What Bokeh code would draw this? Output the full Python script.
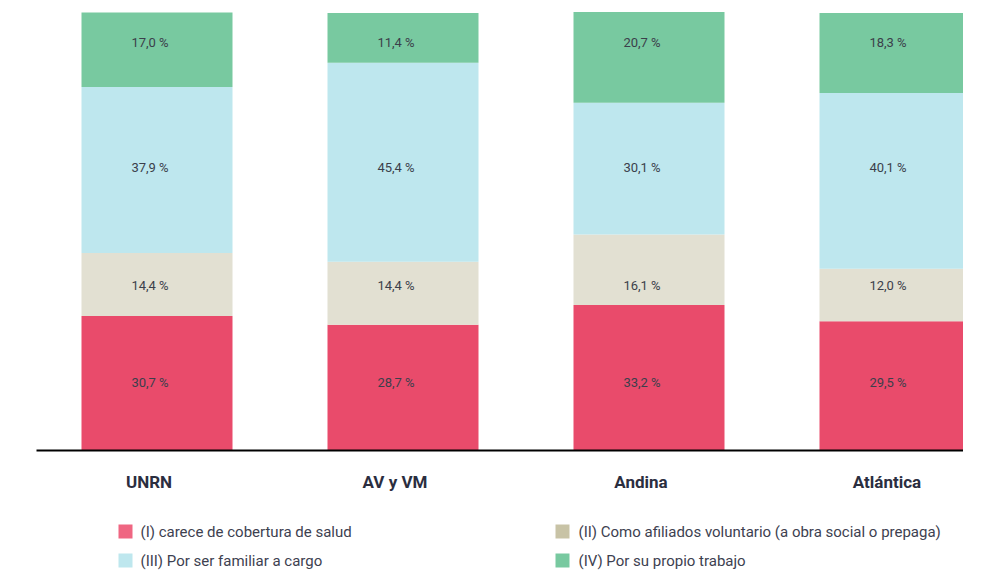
from bokeh.plotting import figure
from bokeh.models import ColumnDataSource
from bokeh.core.properties import value
from bokeh.embed import file_html
from bokeh.resources import INLINE

categories = ["UNRN", "AV y VM", "Andina", "Atlántica"]
series_names = ["(I) carece de cobertura de salud",
                "(II) Como afiliados voluntario (a obra social o prepaga)",
                "(III) Por ser familiar a cargo",
                "(IV) Por su propio trabajo"]
s1 = [30.7, 28.7, 33.2, 29.5]
s2 = [14.4, 14.4, 16.1, 12.0]
s3 = [37.9, 45.4, 30.1, 40.1]
s4 = [17.0, 11.4, 20.7, 18.3]

bar_colors = ["#e94b6b", "#e2e0d2", "#bee7ee", "#78c9a0"]
swatch_colors = ["#ef6682", "#c8c3a6", "#bee7ee", "#78c9a0"]

# layout constants (px) -> data units
PX_X = 246.0   # px per category unit
PX_Y = 4.38    # px per percent
X0 = 156.5     # px of first category centre
Y0 = 450.0     # px of baseline
W, H = 963, 572
x_start = -X0 / PX_X
x_end = (W - X0) / PX_X
y_start = -(H - Y0) / PX_Y
y_end = 100 + 12 / PX_Y

# value labels sit on fixed rows (px from top) per series
label_rows_px = [382, 285, 167, 42]

p = figure(width=W, height=H, x_range=(x_start, x_end), y_range=(y_start, y_end),
           output_backend="svg", toolbar_location=None, min_border=0)
p.axis.visible = False
p.grid.visible = False
p.outline_line_color = None
p.background_fill_color = "white"

xs = list(range(len(categories)))
data = dict(x=xs, s1=s1, s2=s2, s3=s3, s4=s4)
src = ColumnDataSource(data)
p.vbar_stack(["s1", "s2", "s3", "s4"], x="x", width=151 / PX_X, source=src,
             color=bar_colors, line_color=None)

# value labels
lx, ly, lt = [], [], []
for i in xs:
    for k, s in enumerate((s1, s2, s3, s4)):
        v = s[i]
        lx.append(i)
        ly.append((Y0 - label_rows_px[k]) / PX_Y)
        lt.append(f"{v:.1f}".replace(".", ",") + " %")
p.text(x=lx, y=ly, text=lt, text_align="center", text_baseline="middle",
       x_offset=-7, text_font=value("Roboto"), text_font_size="13px",
       text_color="#3b3f4b")

# baseline axis line
p.segment(x0=[(36 - X0) / PX_X], y0=[0], x1=[x_end], y1=[0],
          line_color="black", line_width=2)

# category labels
p.text(x=xs, y=[-31 / PX_Y] * len(xs), text=categories, text_align="center",
       text_baseline="middle", x_offset=-8, text_font=value("Roboto"),
       text_font_size="17px", text_font_style="bold", text_color="#2b2e3f")

# legend
row_y = [-81 / PX_Y, -110 / PX_Y]
sw_x = [(125 - X0) / PX_X, (562 - X0) / PX_X]
tx_x = [(140 - X0) / PX_X, (578 - X0) / PX_X]
order = [(0, 0, 0), (1, 1, 0), (2, 0, 1), (3, 1, 1)]  # (series, col, row)
for si, c, r in order:
    p.rect(x=[sw_x[c]], y=[row_y[r]], width=14, height=14, width_units="screen",
           height_units="screen", fill_color=swatch_colors[si], line_color=None)
    p.text(x=[tx_x[c]], y=[row_y[r]], text=[series_names[si]], text_align="left",
           text_baseline="middle", text_font=value("Roboto"), text_font_size="15px",
           text_color="#3d4150")

open("out.html", "w").write(file_html(p, INLINE))
